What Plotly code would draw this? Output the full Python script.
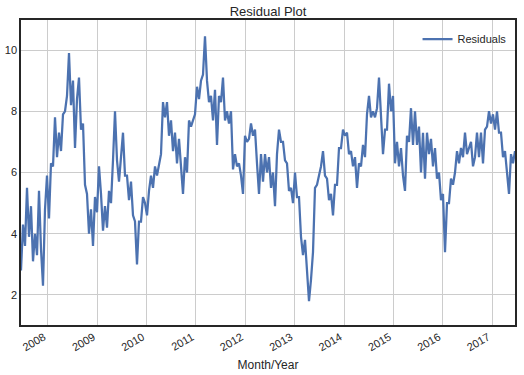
import pandas as pd
import plotly.graph_objects as go

# Residual values (roughly every 15 days, alternating envelope)
residuals = [
    2.8, 4.3, 3.6, 5.5, 3.9, 4.9, 3.1, 4.0, 3.3, 5.4,
    3.5, 2.3, 4.8, 5.9, 4.5, 6.3, 6.2, 7.8, 6.5, 7.3,
    6.7, 7.9, 8.0, 8.5, 9.9, 8.2, 9.0, 6.8, 8.4, 9.1,
    7.4, 7.6, 5.6, 5.3, 4.0, 4.8, 3.6, 5.2, 4.7, 6.2,
    5.3, 4.1, 4.9, 4.2, 5.4, 5.0, 6.4, 8.0, 6.4, 5.7,
    6.5, 7.3, 5.9, 5.9, 5.1, 5.7, 4.6, 4.4, 3.0, 4.4,
    4.4, 5.2, 5.0, 4.6, 5.4, 5.9, 5.5, 6.2, 5.9, 6.2,
    6.6, 8.3, 7.8, 8.3, 7.2, 7.7, 6.7, 7.3, 6.3, 7.1,
    6.2, 5.3, 6.5, 6.0, 7.7, 7.5, 7.7, 7.9, 8.8, 8.4,
    9.0, 9.2, 10.45, 9.0, 8.3, 8.5, 7.7, 8.7, 6.9, 8.5,
    8.3, 9.1, 7.7, 8.0, 7.6, 8.0, 6.1, 6.6, 6.2, 6.3,
    5.9, 5.3, 7.2, 7.0, 7.1, 7.6, 7.2, 7.4, 6.3, 5.3,
    6.6, 5.7, 6.6, 6.0, 6.5, 5.5, 6.0, 4.9, 6.6, 7.4,
    7.0, 7.0, 6.4, 6.3, 5.4, 5.5, 5.0, 6.0, 5.2, 5.2,
    3.9, 3.3, 3.8, 2.7, 1.8, 2.5, 3.4, 5.5, 5.6, 5.9,
    6.2, 6.7, 5.9, 5.8, 5.1, 5.3, 4.6, 5.6, 5.6, 6.8,
    6.8, 7.4, 7.2, 7.3, 6.6, 6.7, 6.2, 6.5, 5.5, 6.3,
    6.2, 6.9, 6.5, 7.9, 8.5, 7.8, 8.0, 7.8, 8.1, 9.1,
    8.0, 6.6, 7.4, 7.4, 8.9, 8.0, 8.5, 6.3, 7.0, 6.2,
    6.8, 5.9, 5.4, 7.2, 7.0, 8.1, 6.9, 8.0, 6.9, 7.5,
    6.0, 7.3, 5.8, 7.3, 6.6, 7.1, 6.2, 6.8, 5.8, 6.0,
    5.1, 5.3, 3.4, 5.0, 5.0, 5.8, 5.6, 6.0, 6.7, 6.3,
    6.8, 6.5, 7.3, 6.6, 6.8, 7.0, 6.2, 6.5, 7.3, 6.5,
    7.3, 6.3, 7.4, 7.5, 8.0, 7.6, 7.9, 7.4, 8.0, 7.3,
    7.3, 6.5, 6.7, 6.1, 5.3, 6.6, 6.3, 6.7,
]
start_date = "2007-06-16"
end_date = "2017-06-19"
dates = pd.date_range(start_date, end_date, periods=len(residuals))

y_ticks = [2, 4, 6, 8, 10]
y_range = [1.02, 10.98]

TXT = "#262626"
FONT = "Liberation Sans, Arial, sans-serif"

fig = go.Figure()
fig.add_trace(go.Scatter(
    x=dates, y=residuals, mode="lines", name="Residuals",
    line=dict(color="#4C72B0", width=2.25),
))

fig.update_layout(
    width=524, height=375,
    margin=dict(l=21, r=9, t=20, b=50, autoexpand=False),
    paper_bgcolor="white", plot_bgcolor="white",
    font=dict(family=FONT, color=TXT, size=11),
    title=dict(text="Residual Plot", x=0.5, xref="paper", xanchor="center",
               y=1 - 11 / 375, yref="container", yanchor="middle",
               font=dict(size=13, color=TXT, family=FONT)),
    showlegend=True,
    legend=dict(x=0.993, xanchor="right", y=0.985, yanchor="top",
                bgcolor="rgba(0,0,0,0)", font=dict(size=11, color=TXT)),
)
fig.update_xaxes(
    type="date", range=[start_date, end_date], automargin=False,
    tick0="2008-01-01", dtick="M12", tickformat="%Y", tickangle=-30,
    ticklabelshift=-4,
    showgrid=True, gridcolor="#cccccc", gridwidth=1,
    showline=True, mirror=True, linecolor=TXT, linewidth=1.5,
    ticks="", zeroline=False,
    title=dict(text="Month/Year", font=dict(size=12, color=TXT), standoff=8),
    tickfont=dict(size=11, color=TXT),
)
fig.update_yaxes(
    range=y_range, tickvals=y_ticks, automargin=False,
    showgrid=True, gridcolor="#cccccc", gridwidth=1,
    showline=True, mirror=True, linecolor=TXT, linewidth=1.5,
    ticks="", zeroline=False,
    tickfont=dict(size=11, color=TXT),
)

fig.write_html("out.html", config={"displayModeBar": False},
               post_script="document.body.style.margin='0';")
